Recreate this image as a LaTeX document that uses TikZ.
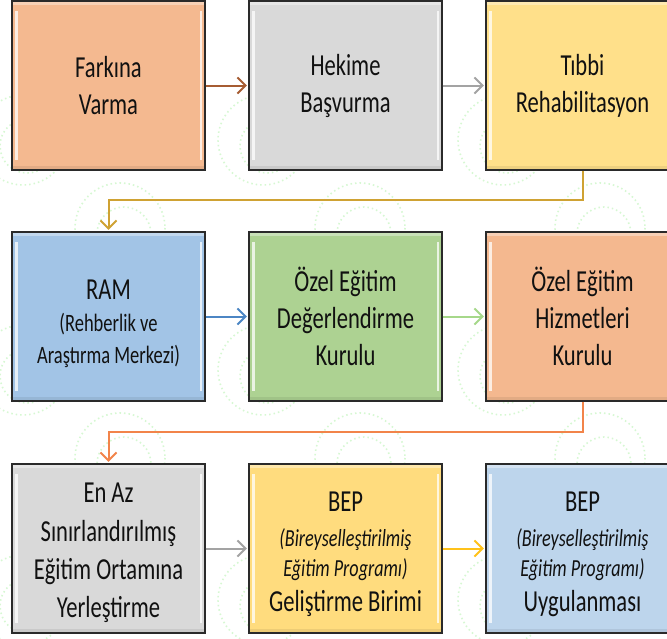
\documentclass[tikz,border=0pt]{standalone}
\usepackage{fontspec}
\setmainfont{Carlito}
\newfontfamily\boxfont[FakeStretch=0.74]{Carlito}
\usetikzlibrary{arrows.meta}
\definecolor{cPeach}{HTML}{F4B990}
\definecolor{cGray}{HTML}{D9D9D9}
\definecolor{cYel}{HTML}{FFE08A}
\definecolor{cBlue}{HTML}{A2C4E6}
\definecolor{cGreen}{HTML}{ADD292}
\definecolor{cOrange}{HTML}{F4B88F}
\definecolor{cYel2}{HTML}{FFDC7E}
\definecolor{cBlue2}{HTML}{BDD5EC}
\definecolor{aBrown}{HTML}{A65C32}
\definecolor{aGray}{HTML}{A3A3A3}
\definecolor{aGold}{HTML}{CFA233}
\definecolor{aBlue}{HTML}{4C86C4}
\definecolor{aGreen}{HTML}{A6D88A}
\definecolor{aOrange}{HTML}{F2844A}
\definecolor{aAmber}{HTML}{FFC21A}
\definecolor{bgGreen}{HTML}{D6F8D2}
\definecolor{edge}{HTML}{2A2A2A}
\definecolor{ink}{HTML}{111111}
\tikzset{
  stepbox/.style={draw=edge, line width=1.3pt, rectangle, inner sep=0pt,
    minimum width=193pt, minimum height=169pt, align=center, text=ink,
    font=\boxfont\fontsize{30.5}{37}\selectfont,
    path picture={
      \fill[white,opacity=0.35] (path picture bounding box.north west) rectangle ([yshift=-4pt]path picture bounding box.north east);
      \fill[black,opacity=0.07] ([yshift=4pt]path picture bounding box.south west) rectangle (path picture bounding box.south east);
      \fill[white,opacity=0.75] ([xshift=3pt,yshift=-10pt]path picture bounding box.north west) rectangle ([xshift=5.5pt,yshift=10pt]path picture bounding box.south west);
      \fill[white,opacity=0.75] ([xshift=-3pt,yshift=-10pt]path picture bounding box.north east) rectangle ([xshift=-5.5pt,yshift=10pt]path picture bounding box.south east);
    }},
  arr/.style={line width=2pt, shorten >=1.5pt, -{Straight Barb[length=8pt,width=16pt]}},
  bgc/.style={bgGreen, line width=1.6pt, dash pattern=on 1.5pt off 3pt}
}
\newcommand{\subtxt}{\fontsize{25}{31}\selectfont}
\newcommand{\subit}{\fontsize{24.5}{31}\selectfont\itshape}
\begin{document}
\begin{tikzpicture}[x=1pt,y=-1pt]
\useasboundingbox (0,0) rectangle (667,638);
\fill[white] (0,0) rectangle (667,638);
\begin{scope}
  \clip (0,0) rectangle (667,638);
  \foreach \i in {-1,0,1,2,3} {
    \foreach \j in {-1,0,1,2,3} {
      \foreach \ox/\oy in {23/140,120/228} {
        \draw[bgc] ({\i*240+\ox},{\j*230+\oy}) circle[radius=45];
        \draw[bgc] ({\i*240+\ox+4},{\j*230+\oy+6}) circle[radius=27];
      }
    }
  }
\end{scope}

% row 1
\node[stepbox, fill=cPeach] (b1) at (108.5,85.5) {Farkına\\Varma};
\node[stepbox, fill=cGray]  (b2) at (345.5,85.5) {Hekime\\Başvurma};
\node[stepbox, fill=cYel]   (b3) at (582.5,85.5) {Tıbbi\\Rehabilitasyon};
% row 2
\node[stepbox, fill=cBlue]  (b4) at (108.5,316.5) {\mbox{}\\[-2.4pt]RAM\\[-5pt]{\subtxt (Rehberlik ve}\\[-5pt]{\subtxt Araştırma Merkezi)}};
\node[stepbox, fill=cGreen] (b5) at (345.5,316.5) {Özel Eğitim\\Değerlendirme\\Kurulu};
\node[stepbox, fill=cOrange](b6) at (582.5,316.5) {Özel Eğitim\\Hizmetleri\\Kurulu};
% row 3
\node[stepbox, fill=cGray]  (b7) at (108.5,548.5) {\mbox{}\\[-8.4pt]En Az\\[1.3pt]Sınırlandırılmış\\[1.3pt]Eğitim Ortamına\\[1.3pt]Yerleştirme};
\node[stepbox, fill=cYel2]  (b8) at (345.5,548.5) {\mbox{}\\[-5.4pt]BEP\\[-2pt]{\subit (Bireyselleştirilmiş}\\[-7pt]{\subit Eğitim Programı)}\\[-2pt]Geliştirme Birimi};
\node[stepbox, fill=cBlue2] (b9) at (582.5,548.5) {\mbox{}\\[-5.4pt]BEP\\[-2pt]{\subit (Bireyselleştirilmiş}\\[-7pt]{\subit Eğitim Programı)}\\[-2pt]Uygulanması};

\coordinate (m1) at (0,200);
\coordinate (m2) at (0,432);

\draw[arr, aBrown] (b1.east) -- (b2.west);
\draw[arr, aGray]  (b2.east) -- (b3.west);
\draw[arr, aGold]  (b3.south) -- (b3.south |- m1) -| (b4.north);
\draw[arr, aBlue]  (b4.east) -- (b5.west);
\draw[arr, aGreen] (b5.east) -- (b6.west);
\draw[arr, aOrange](b6.south) -- (b6.south |- m2) -| (b7.north);
\draw[arr, aGray]  (b7.east) -- (b8.west);
\draw[arr, aAmber] (b8.east) -- (b9.west);
\end{tikzpicture}
\end{document}
